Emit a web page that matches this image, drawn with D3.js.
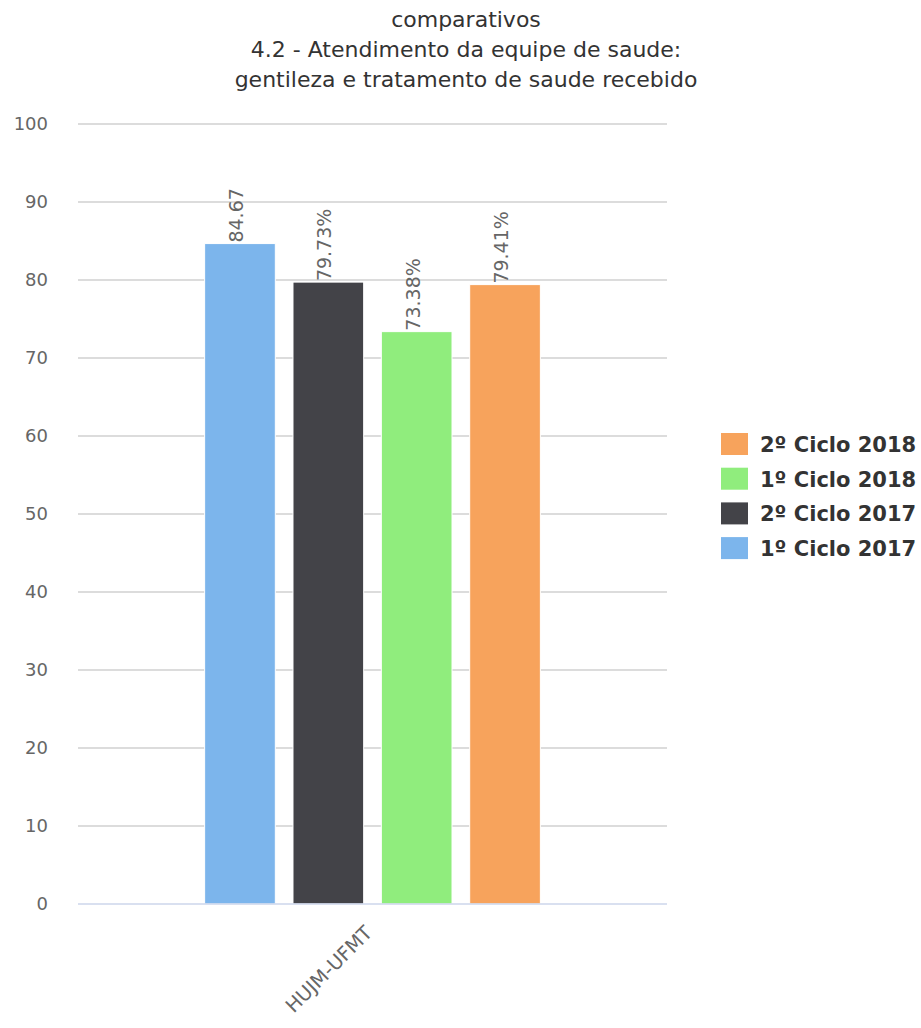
<!DOCTYPE html>
<html>
<head>
<meta charset="utf-8">
<script src="https://cdn.jsdelivr.net/npm/d3@7/dist/d3.min.js"></script>
<style>
  html, body { margin: 0; padding: 0; background: #ffffff; }
  svg { display: block; }
  text { font-family: "DejaVu Sans", Verdana, sans-serif; }
</style>
</head>
<body>
<svg id="chart" width="921" height="1028"></svg>
<script>
// Chart content
const titleLines = ["comparativos", "4.2 - Atendimento da equipe de saude:", "gentileza e tratamento de saude recebido"];
const categories = ["HUJM-UFMT"];
const seriesNames = ["1º Ciclo 2017", "2º Ciclo 2017", "1º Ciclo 2018", "2º Ciclo 2018"];
const seriesColors = ["#7cb5ec", "#434348", "#90ed7d", "#f7a35c"];
const seriesValues = [84.67, 79.73, 73.38, 79.41];
const seriesLabels = ["84.67", "79.73%", "73.38%", "79.41%"];
const yTicks = [0, 10, 20, 30, 40, 50, 60, 70, 80, 90, 100];

const svg = d3.select("#chart");
const plot = { left: 78, right: 667, top: 124, bottom: 904 };

// Title
svg.append("g").selectAll("text")
  .data(titleLines)
  .join("text")
  .attr("x", 466)
  .attr("y", (d, i) => 27 + i * 30)
  .attr("text-anchor", "middle")
  .attr("fill", "#333333")
  .style("font-size", "22px")
  .text(d => d);

// Scales
const y = d3.scaleLinear().domain([0, 100]).range([plot.bottom, plot.top]);
const x0 = d3.scaleBand().domain(categories).range([plot.left, plot.right])
  .paddingInner(0).paddingOuter(1 / 3);
const x1 = d3.scaleBand().domain(seriesNames).range([0, x0.bandwidth()])
  .paddingInner(0.2).paddingOuter(0.1);

// Gridlines
svg.append("g").selectAll("line")
  .data(yTicks.filter(t => t !== 0))
  .join("line")
  .attr("x1", plot.left).attr("x2", plot.right)
  .attr("y1", d => y(d)).attr("y2", d => y(d))
  .attr("stroke", "#d0d0d0").attr("stroke-width", 1.5);

// Y axis labels
const yAxis = d3.axisLeft(y).tickValues(yTicks).tickSize(0).tickPadding(0);
const yg = svg.append("g").attr("transform", `translate(48,0)`).call(yAxis);
yg.select(".domain").remove();
yg.selectAll("text")
  .attr("fill", "#666666")
  .style("font-size", "18px")
  .style("font-family", "'DejaVu Sans', Verdana, sans-serif");

// Bars
const group = svg.append("g");
categories.forEach(cat => {
  const gx = x0(cat);
  group.selectAll(null)
    .data(seriesNames.map((name, i) => ({ name, value: seriesValues[i], color: seriesColors[i], label: seriesLabels[i] })))
    .join("rect")
    .attr("x", d => gx + x1(d.name))
    .attr("y", d => y(d.value))
    .attr("width", x1.bandwidth())
    .attr("height", d => y(0) - y(d.value))
    .attr("fill", d => d.color)
    .attr("stroke", "#ffffff")
    .attr("stroke-width", 1);

  // Value labels, rotated
  group.selectAll(null)
    .data(seriesNames.map((name, i) => ({ name, value: seriesValues[i], label: seriesLabels[i] })))
    .join("text")
    .attr("transform", d => `translate(${gx + x1(d.name) + x1.bandwidth() / 2 + 3},${y(d.value) - 1}) rotate(-90)`)
    .attr("text-anchor", "start")
    .attr("fill", "#666666")
    .style("font-size", "19px")
    .text(d => d.label);
});

// X axis baseline
svg.append("line")
  .attr("x1", plot.left).attr("x2", plot.right)
  .attr("y1", y(0)).attr("y2", y(0))
  .attr("stroke", "#ccd6eb").attr("stroke-width", 1.5);

// Category labels
svg.append("g").selectAll("text")
  .data(categories)
  .join("text")
  .attr("transform", d => `translate(${x0(d) + x0.bandwidth() / 2 + 1},${plot.bottom + 30}) rotate(-45)`)
  .attr("text-anchor", "end")
  .attr("fill", "#666666")
  .style("font-size", "19.5px")
  .text(d => d);

// Legend (reversed order)
const legendItems = seriesNames.map((name, i) => ({ name, color: seriesColors[i] })).reverse();
const legend = svg.append("g").selectAll("g")
  .data(legendItems)
  .join("g")
  .attr("transform", (d, i) => `translate(721,${433 + i * 34.7})`);
legend.append("rect")
  .attr("width", 27).attr("height", 22)
  .attr("fill", d => d.color);
legend.append("text")
  .attr("x", 39).attr("y", 19)
  .attr("fill", "#333333")
  .style("font-size", "21px")
  .style("font-weight", "bold")
  .text(d => d.name);
</script>
</body>
</html>
